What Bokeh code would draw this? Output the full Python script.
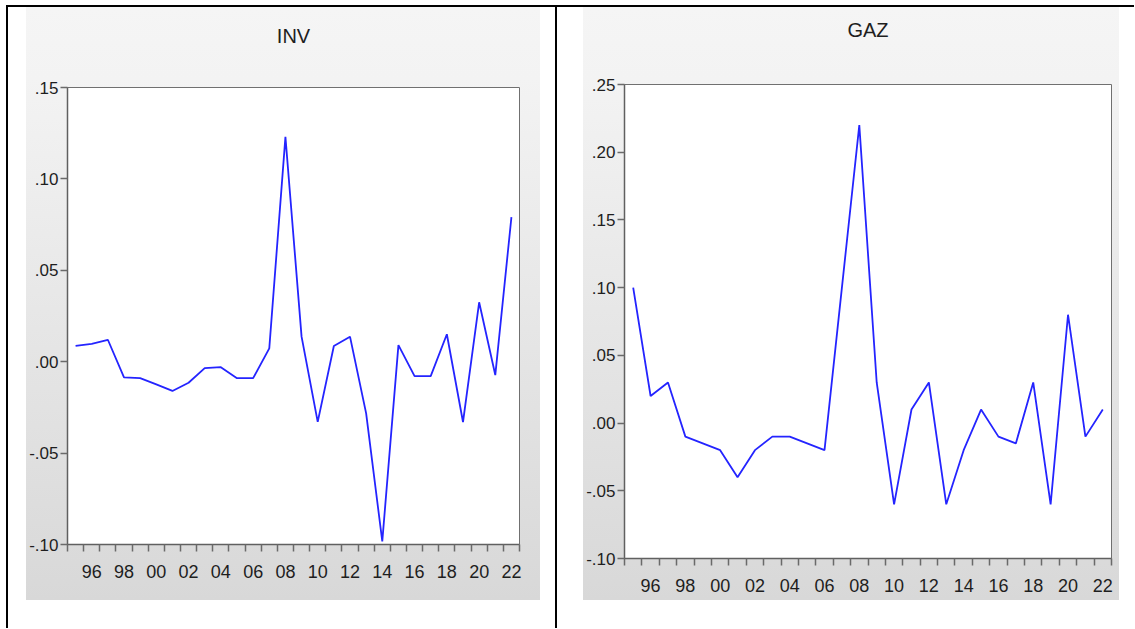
from bokeh.plotting import figure
from bokeh.models import Range1d, FixedTicker, Spacer, Title
from bokeh.layouts import row, column
from bokeh.embed import file_html
from bokeh.resources import INLINE

# ---- data -------------------------------------------------------------
years = list(range(1995, 2023))

inv = [0.0086, 0.0097, 0.0120, -0.0086, -0.0090, -0.0124, -0.0160, -0.0115,
       -0.0035, -0.0030, -0.0090, -0.0090, 0.0073, 0.1230, 0.0137, -0.0329,
       0.0086, 0.0137, -0.0283, -0.0983, 0.0091, -0.0079, -0.0079, 0.0150,
       -0.0330, 0.0325, -0.0073, 0.0791]

gaz = [0.100, 0.020, 0.030, -0.010, -0.015, -0.020, -0.040, -0.020,
       -0.010, -0.010, -0.015, -0.020, 0.100, 0.220, 0.030, -0.060,
       0.010, 0.030, -0.060, -0.020, 0.010, -0.010, -0.015, 0.030,
       -0.060, 0.080, -0.010, 0.010]

x_label_years = [1996, 1998, 2000, 2002, 2004, 2006, 2008, 2010, 2012,
                 2014, 2016, 2018, 2020, 2022]
x_tick_labels = ["96", "98", "00", "02", "04", "06", "08", "10", "12",
                 "14", "16", "18", "20", "22"]
x_minor_ticks = [y - 0.5 for y in years] + [years[-1] + 0.5]

inv_y_ticks = [-0.10, -0.05, 0.00, 0.05, 0.10, 0.15]
inv_y_labels = ["-.10", "-.05", ".00", ".05", ".10", ".15"]
gaz_y_ticks = [-0.10, -0.05, 0.00, 0.05, 0.10, 0.15, 0.20, 0.25]
gaz_y_labels = ["-.10", "-.05", ".00", ".05", ".10", ".15", ".20", ".25"]

FONT = "'Liberation Sans Narrow', 'Arial Narrow', 'Liberation Sans', Arial, sans-serif"
GRAD = {"background": "linear-gradient(to bottom, #f5f5f5 0%, #f3f3f3 12%, #d8d8d8 100%)"}


def make_panel(title, yvals, yticks, ylabels, width, height, mb, gap):
    left, right, top, bottom = mb
    x0, x1 = years[0] - 0.5, years[-1] + 0.5
    p = figure(width=width, height=height, output_backend="svg",
               toolbar_location=None, tools="", title=title,
               x_range=Range1d(x0, x1),
               y_range=Range1d(yticks[0], yticks[-1]),
               min_border_left=left, min_border_right=right,
               min_border_top=top, min_border_bottom=bottom)
    p.border_fill_alpha = 0
    p.styles = GRAD
    p.background_fill_color = "white"
    p.outline_line_color = "#707070"
    p.outline_line_width = 1
    p.xgrid.visible = False
    p.ygrid.visible = False

    # blank spacer title between the frame and the real title
    p.add_layout(Title(text=" ", text_font_size="20px", standoff=gap), "above")

    p.title.align = "center"
    p.title.standoff = 0
    p.title.text_font = FONT
    p.title.text_font_size = "20px"
    p.title.text_font_style = "normal"
    p.title.text_color = "#1e1e1e"

    xa = p.xaxis[0]
    xa.ticker = FixedTicker(ticks=x_label_years, minor_ticks=x_minor_ticks)
    xa.major_label_overrides = dict(zip(x_label_years, x_tick_labels))
    xa.major_tick_out = 0
    xa.major_tick_in = 0
    xa.minor_tick_out = 7
    xa.minor_tick_in = 0
    xa.minor_tick_line_color = "#6a6a6a"
    xa.minor_tick_line_width = 1.5
    xa.axis_line_color = "#606060"
    xa.axis_line_width = 1.5
    xa.major_label_standoff = 13
    xa.major_label_text_font = FONT
    xa.major_label_text_font_size = "18px"
    xa.major_label_text_color = "#1e1e1e"

    ya = p.yaxis[0]
    ya.ticker = FixedTicker(ticks=yticks, minor_ticks=[])
    ya.major_label_overrides = dict(zip(yticks, ylabels))
    ya.major_tick_out = 7
    ya.major_tick_in = 0
    ya.major_tick_line_color = "#6a6a6a"
    ya.major_tick_line_width = 1.5
    ya.minor_tick_out = 0
    ya.minor_tick_in = 0
    ya.axis_line_color = "#606060"
    ya.axis_line_width = 1.5
    ya.major_label_standoff = 2
    ya.major_label_text_font = FONT
    ya.major_label_text_font_size = "17px"
    ya.major_label_text_color = "#1e1e1e"

    p.line(years, yvals, line_color="#2424ff", line_width=1.8)
    return p


p1 = make_panel("INV", inv, inv_y_ticks, inv_y_labels, 514, 593, (38, 21, 80, 56), 17)
p2 = make_panel("GAZ", gaz, gaz_y_ticks, gaz_y_labels, 536, 593, (40, 8, 77, 42), 20)

BLACK = {"background-color": "black"}
top_line = row(Spacer(width=6, height=2), Spacer(width=1128, height=2, styles=BLACK), spacing=0)
left_bar = Spacer(width=2, height=621, styles=BLACK)
mid_bar = Spacer(width=2, height=621, styles=BLACK)

body = row(Spacer(width=6, height=10), left_bar, Spacer(width=18, height=10), column(p1),
           Spacer(width=15, height=10), mid_bar, Spacer(width=26, height=10), column(p2),
           spacing=0)
layout = column(Spacer(width=10, height=5), top_line, body, spacing=0)

open("out.html", "w").write(file_html(layout, INLINE))
